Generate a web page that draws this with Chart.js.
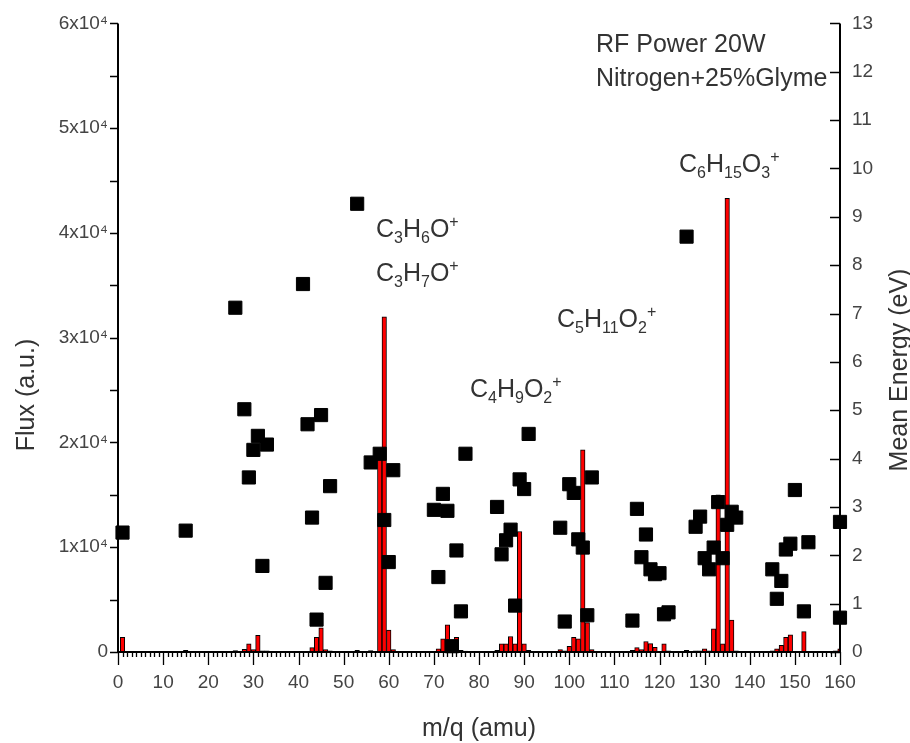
<!DOCTYPE html>
<html>
<head>
<meta charset="utf-8">
<script src="https://cdn.jsdelivr.net/npm/chart.js@4.4.0/dist/chart.umd.min.js"></script>
<style>
  html, body { margin: 0; padding: 0; background: #fff; }
</style>
</head>
<body>
<canvas id="massChart" width="910" height="743"></canvas>
<script>
// ===================== DATA =====================
// ion flux per mass (bars, left axis)
const fluxMass = [1, 15, 26, 28, 29, 30, 31, 32, 33, 41, 42, 43, 44, 45, 46, 47, 53, 56,
  58, 59, 60, 61, 69, 70, 71, 72, 73, 74, 75, 76, 77, 84, 85, 86, 87, 88, 89, 90, 91,
  98, 99, 100, 101, 102, 103, 104, 105, 114, 115, 116, 117, 118, 119, 121, 122, 126,
  128, 129, 130, 131, 132, 133, 134, 135, 136, 137, 145, 146, 147, 148, 149, 152, 159, 160];
const fluxValues = [1400, 150, 130, 250, 790, 220, 1600, 100, 100, 60, 60, 410, 1400, 2300, 220, 100, 150, 130,
  19000, 32000, 2100, 220, 60, 60, 310, 1260, 2600, 850, 1400, 150, 80, 150, 790, 790, 1480, 790, 11500, 790, 150,
  220, 100, 530, 1400, 1260, 19300, 2800, 220, 150, 410, 220, 1000, 800, 450, 790, 100, 150,
  100, 100, 310, 100, 2200, 15000, 790, 43300, 3050, 120, 100, 310, 630, 1400, 1650, 1950, 100, 310];

// mean ion energy per mass (squares, right axis)
const energyMass = [1, 15, 26, 28, 29, 30, 31, 32, 33, 41, 42, 43, 44, 45, 46, 47, 53,
  56, 58, 59, 60, 61, 70, 71, 72, 73, 74, 75, 76, 77, 84, 85, 86, 87, 88, 89, 90, 91,
  98, 99, 100, 101, 102, 103, 104, 105, 114, 115, 116, 117, 118, 119, 120, 121, 122,
  126, 128, 129, 130, 131, 132, 133, 134, 135, 136, 137, 145, 146, 147, 148, 149, 150,
  152, 153, 160, 160];
const energyValues = [2.47, 2.51, 7.12, 5.02, 3.61, 4.18, 4.47, 1.78, 4.29, 7.61, 4.71, 2.78, 0.67, 4.90, 1.43, 3.43, 9.27,
  3.92, 4.10, 2.73, 1.86, 3.76, 2.94, 1.55, 3.27, 2.92, 0.12, 2.10, 0.84, 4.10, 3.00, 2.02, 2.31, 2.53, 0.96, 3.57, 3.37, 4.51,
  2.57, 0.63, 3.47, 3.29, 2.33, 2.16, 0.76, 3.61, 0.65, 2.96, 1.96, 2.43, 1.71, 1.61, 1.63, 0.78, 0.82,
  8.59, 2.59, 2.80, 1.94, 1.71, 2.16, 3.10, 1.94, 2.63, 2.90, 2.78, 1.71, 1.10, 1.47, 2.12, 2.24, 3.35,
  0.84, 2.27, 2.69, 0.71];

// axis tick labels
const fluxTickLabels = ['0', '1x10\u2074', '2x10\u2074', '3x10\u2074', '4x10\u2074', '5x10\u2074', '6x10\u2074'];

// peak assignments and run conditions
const peakLabels = ['C_3H_6O^+', 'C_3H_7O^+', 'C_4H_9O_2^+', 'C_5H_{11}O_2^+', 'C_6H_{15}O_3^+'];
const runNotes = ['RF Power 20W', 'Nitrogen+25%Glyme'];

// ===================== HELPERS =====================
const FONT = '"Liberation Sans", Arial, sans-serif';
const TEXT = '#333';

// draw a chemical formula with _sub and ^sup parts
function drawFormula(ctx, str, x, y, size) {
  const re = /_\{([^}]*)\}|_(\w)|\^(.)|([^_^]+)/g;
  let m;
  while ((m = re.exec(str)) !== null) {
    let txt, s = size, dy = 0;
    if (m[1] !== undefined || m[2] !== undefined) { txt = m[1] || m[2]; s = size * 0.64; dy = size * 0.22; }
    else if (m[3] !== undefined) { txt = m[3]; s = size * 0.64; dy = -size * 0.42; }
    else txt = m[4];
    ctx.font = s + 'px ' + FONT;
    ctx.fillText(txt, x, y + dy);
    x += ctx.measureText(txt).width;
  }
}

// ===================== AXES + ANNOTATIONS PLUGIN =====================
const axisDecor = {
  id: 'axisDecor',
  afterDraw(chart) {
    const { ctx, chartArea: a, scales } = chart;
    const xs = scales.x, yl = scales.yFlux, yr = scales.yEnergy;
    ctx.save();
    ctx.strokeStyle = '#000';

    // ticks
    ctx.lineWidth = 1.3;
    ctx.beginPath();
    for (let v = xs.min; v <= xs.max; v++) {
      const px = Math.round(xs.getPixelForValue(v)) + 0.5;
      ctx.moveTo(px, a.bottom);
      ctx.lineTo(px, a.bottom + (v % 10 === 0 ? 13 : 5));
    }
    for (let v = yl.min; v <= yl.max; v += 5000) {
      const py = Math.round(yl.getPixelForValue(v)) + 0.5;
      ctx.moveTo(a.left, py);
      ctx.lineTo(a.left - 8, py);
    }
    for (let v = yr.min; v <= yr.max; v++) {
      const py = Math.round(yr.getPixelForValue(v)) + 0.5;
      ctx.moveTo(a.right, py);
      ctx.lineTo(a.right - 10, py);
    }
    ctx.stroke();

    // axis lines (no top frame)
    ctx.lineWidth = 2;
    ctx.beginPath();
    ctx.moveTo(a.left, a.top);
    ctx.lineTo(a.left, a.bottom);
    ctx.lineTo(a.right, a.bottom);
    ctx.lineTo(a.right, a.top);
    ctx.stroke();

    // axis titles
    ctx.fillStyle = TEXT;
    ctx.font = '25px ' + FONT;
    ctx.textAlign = 'center';
    ctx.textBaseline = 'alphabetic';
    ctx.fillText('m/q (amu)', (a.left + a.right) / 2, 736);

    ctx.save();
    ctx.translate(34, 395);
    ctx.rotate(-Math.PI / 2);
    ctx.fillText('Flux (a.u.)', 0, 0);
    ctx.restore();

    ctx.save();
    ctx.translate(907, 370);
    ctx.rotate(-Math.PI / 2);
    ctx.fillText('Mean Energy (eV)', 0, 0);
    ctx.restore();

    // run conditions
    ctx.textAlign = 'left';
    ctx.font = '25px ' + FONT;
    ctx.fillText(runNotes[0], 596, 52);
    ctx.fillText(runNotes[1], 596, 86);

    // peak assignments
    const spots = [[376, 237], [376, 281], [470, 397], [557, 327], [679, 172]];
    peakLabels.forEach((lbl, i) => drawFormula(ctx, lbl, spots[i][0], spots[i][1], 25));

    ctx.restore();
  }
};

// ===================== CHART =====================
const ctx = document.getElementById('massChart').getContext('2d');
const massChart = new Chart(ctx, {
  type: 'bar',
  data: {
    datasets: [
      {
        type: 'scatter',
        label: 'Mean Energy',
        data: energyMass.map((m, i) => ({ x: m, y: energyValues[i] })),
        yAxisID: 'yEnergy',
        pointStyle: 'rect',
        pointRadius: 9.3,
        backgroundColor: '#000',
        borderColor: '#000',
        borderWidth: 1,
        clip: false,
        order: 0
      },
      {
        type: 'bar',
        label: 'Flux',
        data: fluxMass.map((m, i) => ({ x: m, y: fluxValues[i] })),
        yAxisID: 'yFlux',
        backgroundColor: '#ff0000',
        borderColor: '#000',
        borderWidth: 1,
        barPercentage: 1,
        categoryPercentage: 1,
        order: 1
      }
    ]
  },
  options: {
    responsive: false,
    animation: false,
    layout: { padding: { top: 15, left: 0, right: 0, bottom: 0 } },
    plugins: { legend: { display: false }, tooltip: { enabled: false } },
    scales: {
      x: {
        type: 'linear',
        min: 0,
        max: 160,
        offset: false,
        grid: { display: false, drawTicks: false, offset: false },
        border: { display: false },
        ticks: { stepSize: 10, padding: 19, color: '#444', font: { family: FONT, size: 19 } },
        afterFit(s) { s.height = 91; }
      },
      yFlux: {
        position: 'left',
        min: 0,
        max: 60000,
        grid: { display: false, drawTicks: false },
        border: { display: false },
        ticks: {
          stepSize: 10000, padding: 10, color: '#444', font: { family: FONT, size: 19 },
          callback: (v) => fluxTickLabels[Math.round(v / 10000)]
        },
        afterFit(s) { s.width = 118; }
      },
      yEnergy: {
        position: 'right',
        min: 0,
        max: 13,
        grid: { display: false, drawTicks: false },
        border: { display: false },
        ticks: { stepSize: 1, padding: 12, color: '#444', font: { family: FONT, size: 19 } },
        afterFit(s) { s.width = 70; }
      }
    }
  },
  plugins: [axisDecor]
});
</script>
</body>
</html>
